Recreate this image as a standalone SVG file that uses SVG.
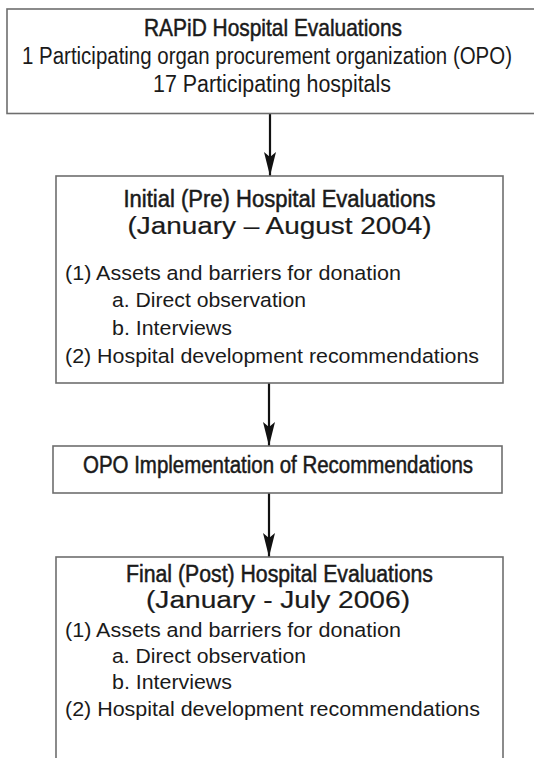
<svg xmlns="http://www.w3.org/2000/svg" width="534" height="758" viewBox="0 0 534 758">
<style>
.box{fill:#fff;stroke:#6e6e6e;stroke-width:1.6}
.t{font-family:"Liberation Sans",Arial,sans-serif;fill:#1a1a1a}
.h{font-size:23px;text-anchor:middle;stroke:#1a1a1a;stroke-width:0.5}
.d{font-size:23px;text-anchor:middle;stroke:#1a1a1a;stroke-width:0.2}
.b{font-size:20.5px}
.c{text-anchor:middle}
.top{font-size:23px}
.conn{stroke:#111;stroke-width:2.2;fill:none}
</style>
<defs>
<marker id="arr" markerUnits="userSpaceOnUse" markerWidth="26" markerHeight="14" refX="24" refY="7" orient="auto">
<path d="M0,1 L24,7 L0,13 L5,7 Z" fill="#111"/>
</marker>
</defs>
<rect width="534" height="758" fill="#fff"/>
<g id="connectors">
<line class="conn" x1="270" y1="114" x2="270" y2="176" marker-end="url(#arr)"/>
<line class="conn" x1="269" y1="383" x2="269" y2="446" marker-end="url(#arr)"/>
<line class="conn" x1="269" y1="493" x2="269" y2="557" marker-end="url(#arr)"/>
</g>
<g id="node-rapid">
<rect class="box" x="7" y="9" width="540" height="104.5"/>
<text class="t h" x="273" y="36" textLength="258" lengthAdjust="spacingAndGlyphs" style="font-size:24px">RAPiD Hospital Evaluations</text>
<text class="t top c" x="267" y="64" textLength="490" lengthAdjust="spacingAndGlyphs">1 Participating organ procurement organization (OPO)</text>
<text class="t top c" x="272" y="92" textLength="238" lengthAdjust="spacingAndGlyphs">17 Participating hospitals</text>
</g>
<g id="node-initial">
<rect class="box" x="56" y="176" width="447" height="207"/>
<text class="t h" x="279.5" y="207" textLength="312" lengthAdjust="spacingAndGlyphs">Initial (Pre) Hospital Evaluations</text>
<text class="t d" x="279.5" y="234" textLength="304" lengthAdjust="spacingAndGlyphs">(January – August 2004)</text>
<text class="t b" x="65" y="280" textLength="336" lengthAdjust="spacingAndGlyphs">(1) Assets and barriers for donation</text>
<text class="t b" x="112" y="307" textLength="194" lengthAdjust="spacingAndGlyphs">a. Direct observation</text>
<text class="t b" x="112" y="335" textLength="120" lengthAdjust="spacingAndGlyphs">b. Interviews</text>
<text class="t b" x="65" y="363" textLength="414" lengthAdjust="spacingAndGlyphs">(2) Hospital development recommendations</text>
</g>
<g id="node-opo">
<rect class="box" x="53" y="446" width="449" height="47"/>
<text class="t h" x="278" y="473" textLength="390" lengthAdjust="spacingAndGlyphs">OPO Implementation of Recommendations</text>
</g>
<g id="node-final">
<rect class="box" x="56" y="557" width="447" height="220"/>
<text class="t h" x="279.5" y="582" textLength="307" lengthAdjust="spacingAndGlyphs">Final (Post) Hospital Evaluations</text>
<text class="t d" x="278" y="608" textLength="264" lengthAdjust="spacingAndGlyphs">(January - July 2006)</text>
<text class="t b" x="65" y="637" textLength="336" lengthAdjust="spacingAndGlyphs">(1) Assets and barriers for donation</text>
<text class="t b" x="112" y="663" textLength="194" lengthAdjust="spacingAndGlyphs">a. Direct observation</text>
<text class="t b" x="112" y="689" textLength="120" lengthAdjust="spacingAndGlyphs">b. Interviews</text>
<text class="t b" x="65" y="716" textLength="415" lengthAdjust="spacingAndGlyphs">(2) Hospital development recommendations</text>
</g>
</svg>
